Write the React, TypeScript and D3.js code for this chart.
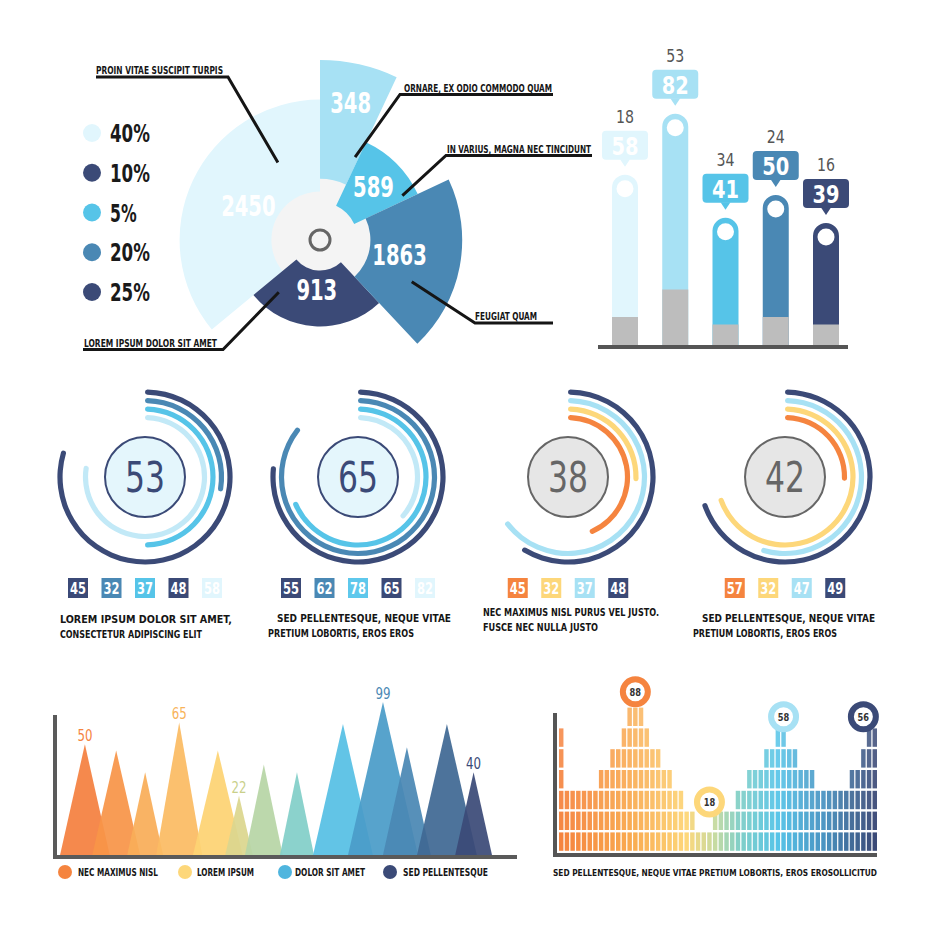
import React from "react";
import * as d3 from "d3";

const NAVY = "#3b4a77";
const STEEL = "#4a88b4";
const CYAN = "#56c4e8";
const SKY = "#a7e1f4";
const ICE = "#e1f6fd";
const PALE = "#c2e9f7";
const ORANGE = "#f5843f";
const YELLOW = "#fdd77a";
const INK = "#151515";
const FONT = "'Liberation Sans Narrow', 'DejaVu Sans Condensed', Roboto, sans-serif";

// polar wedges, clockwise from 12 o'clock
const wedgeLabels = ["348", "589", "1863", "913", "2450"];
const wedgeShares = [7, 11, 20, 26, 36];
const wedgeReach = [100, 60, 79, 48, 78];
const wedgeHole = [34, 21, 28, 17, 27];
const wedgeTextReach = [78, 42, 45, 28, 44];
const wedgeColors = [SKY, CYAN, STEEL, NAVY, ICE];
const wedgeDrawOrder = [4, 0, 1, 3, 2];

const legendLabels = ["40%", "10%", "5%", "20%", "25%"];
const legendColors = [ICE, NAVY, CYAN, STEEL, NAVY];

const calloutLabels = [
  "PROIN VITAE SUSCIPIT TURPIS",
  "ORNARE, EX ODIO COMMODO QUAM",
  "IN VARIUS, MAGNA NEC TINCIDUNT",
  "FEUGIAT QUAM",
  "LOREM IPSUM DOLOR SIT AMET",
];
const calloutWedge = [4, 0, 1, 2, 3];
const calloutAt = [0.78, 0.91, 0.92, 0.69, 0.87];
const calloutReach = [49, 50, 52, 56, 37];

// pin bars
const barValues = [58, 82, 41, 50, 39];
const barTopNums = [18, 53, 34, 24, 16];
const barBase = [12, 23, 9, 12, 9];
const barColors = [ICE, SKY, CYAN, STEEL, NAVY];

// ring gauges
const ringTotals = [53, 65, 38, 42];
const ringSweeps = [
  [80, 28, 50, 78],
  [77, 86, 69, 37],
  [59, 65, 26, 44],
  [70, 55, 70, 26],
];
const ringPalettes = [
  [NAVY, STEEL, CYAN, PALE],
  [NAVY, STEEL, CYAN, PALE],
  [NAVY, SKY, YELLOW, ORANGE],
  [NAVY, SKY, YELLOW, ORANGE],
];
const ringBoxValues = [
  [45, 32, 37, 48, 58],
  [55, 62, 78, 65, 82],
  [45, 32, 37, 48],
  [57, 32, 47, 49],
];
const ringBoxColors = [
  [NAVY, STEEL, CYAN, NAVY, ICE],
  [NAVY, STEEL, "#5ec8ec", NAVY, ICE],
  [ORANGE, YELLOW, SKY, NAVY],
  [ORANGE, YELLOW, SKY, NAVY],
];
const ringTexts = [
  ["LOREM IPSUM DOLOR SIT AMET,", "CONSECTETUR ADIPISCING ELIT"],
  ["SED PELLENTESQUE, NEQUE VITAE", "PRETIUM LOBORTIS, EROS EROS"],
  ["NEC MAXIMUS NISL PURUS VEL JUSTO.", "FUSCE NEC NULLA JUSTO"],
  ["SED PELLENTESQUE, NEQUE VITAE", "PRETIUM LOBORTIS, EROS EROS"],
];

// mountains
const peakPos = [6.5, 13.3, 19.6, 27, 35.4, 40, 45.4, 52.6, 62.6, 71.3, 76.5, 85.2, 91];
const peakSpread = [5.4, 5.2, 3.9, 5, 5.4, 3, 4.1, 3.7, 6.5, 7.6, 5.2, 6.5, 4];
const peakHeight = [71, 67, 53, 85, 67, 38, 58, 53, 84, 98, 69, 84, 53];
const peakColors = [
  "#f4803f", "#f79448", "#f9ad58", "#fbbb63", "#fdd373", "#dcd68e", "#b7d5a6",
  "#82cfc8", "#56c0e4", "#4a9cc8", "#4a88b4", "#3f6893", "#3b4a77",
];
const peakTags = ["50", "", "", "65", "", "22", "", "", "", "99", "", "", "40"];
const peakTagColors = ["#f5843f", "", "", "#f8b35a", "", "#c9d08a", "", "", "", "#4a88b4", "", "", "#3b4a77"];
const mountainLegend = ["NEC MAXIMUS NISL", "LOREM IPSUM", "DOLOR SIT AMET", "SED PELLENTESQUE"];
const mountainLegendColors = [ORANGE, YELLOW, "#4fb5de", NAVY];

// block histogram
const blockHeights = [
  6, 3, 3, 3, 3, 3, 3, 4, 4, 5, 5, 6, 7, 7, 7, 6, 5, 5, 4, 4, 3, 3, 2, 2, 1, 1, 1, 2,
  2, 2, 2, 3, 3, 4, 4, 4, 5, 5, 6, 6, 5, 5, 4, 4, 4, 3, 3, 3, 3, 3, 3, 4, 4, 5, 6, 6,
];
const markerCols = [13, 26, 39, 53];
const markerLabels = ["88", "18", "58", "56"];
const markerLevels = [7.7, 2.4, 6.5, 6.5];
const markerColors = [ORANGE, YELLOW, SKY, NAVY];

const polar = (cx: number, cy: number, a: number, r: number) => [cx + r * Math.sin(a), cy - r * Math.cos(a)];

function PolarChart() {
  const cx = 320, cy = 240;
  const r = d3.scaleLinear().domain([0, 100]).range([0, 180]);
  const slices = d3.pie<number>().sort(null).value((d) => d)(wedgeShares);
  const arc = d3.arc<any>();
  const legendY = d3.scalePoint<number>().domain(d3.range(legendLabels.length)).range([133, 292]);
  const layout = [
    { ex: 228, ey: 77, end: 96, tx: 96, tw: 127 },
    { ex: 400, ey: 94.5, end: 553, tx: 404, tw: 148 },
    { ex: 446, ey: 155.5, end: 592, tx: 447, tw: 144 },
    { ex: 475, ey: 323, end: 553, tx: 475, tw: 62 },
    { ex: 223, ey: 349.5, end: 83, tx: 84, tw: 133 },
  ];
  return (
    <g>
      <circle cx={cx} cy={cy} r={62} fill="#f4f4f4" />
      {wedgeDrawOrder.map((i) => {
        const s = slices[i];
        return (
          <path
            key={i}
            transform={`translate(${cx},${cy})`}
            d={arc({ innerRadius: r(wedgeHole[i]), outerRadius: r(wedgeReach[i]), startAngle: s.startAngle, endAngle: s.endAngle }) as string}
            fill={wedgeColors[i]}
          />
        );
      })}
      <circle cx={cx} cy={cy} r={10} fill="none" stroke="#666" strokeWidth={3} />
      {slices.map((s, i) => {
        const [x, y] = polar(cx, cy, (s.startAngle + s.endAngle) / 2, r(wedgeTextReach[i]));
        return (
          <text key={i} x={x} y={y + 10} textAnchor="middle" fill="#fff" fontSize={29} fontWeight={600}
            textLength={wedgeLabels[i].length * 13.6} lengthAdjust="spacingAndGlyphs">
            {wedgeLabels[i]}
          </text>
        );
      })}
      {calloutLabels.map((label, k) => {
        const s = slices[calloutWedge[k]];
        const a = s.startAngle + calloutAt[k] * (s.endAngle - s.startAngle);
        const [px, py] = polar(cx, cy, a, r(calloutReach[k]));
        const L = layout[k];
        return (
          <g key={k}>
            <path d={`M${px},${py}L${L.ex},${L.ey}L${L.end},${L.ey}`} fill="none" stroke={INK} strokeWidth={3} />
            <text x={L.tx} y={L.ey - 3} fontSize={10.5} fontWeight={700} fill={INK} textLength={L.tw} lengthAdjust="spacingAndGlyphs">
              {label}
            </text>
          </g>
        );
      })}
      {legendLabels.map((l, i) => (
        <g key={l + i}>
          <circle cx={92} cy={legendY(i)} r={9} fill={legendColors[i]} />
          <text x={110} y={(legendY(i) as number) + 9} fontSize={25} fontWeight={600} fill="#1a1a1a"
            textLength={l.length * 13.3} lengthAdjust="spacingAndGlyphs">{l}</text>
        </g>
      ))}
    </g>
  );
}

function PinBars() {
  const base = 347;
  const x = d3.scalePoint<number>().domain(d3.range(barValues.length)).range([625, 826]);
  const y = d3.scaleLinear().domain([0, 100]).range([322, 68]);
  const h = d3.scaleLinear().domain([0, 100]).range([0, 250]);
  const w = 13;
  return (
    <g>
      {barValues.map((v, i) => {
        const cx = x(i) as number;
        const top = y(v);
        const bb = top - 15;
        return (
          <g key={i}>
            <path d={`M${cx - w},${base}L${cx - w},${top + w}A${w},${w} 0 0 1 ${cx + w},${top + w}L${cx + w},${base}Z`} fill={barColors[i]} />
            <rect x={cx - w} y={base - h(barBase[i])} width={2 * w} height={h(barBase[i])} fill="#bdbdbd" />
            <circle cx={cx} cy={top + 14} r={8.5} fill="#fff" />
            <rect x={cx - 23} y={bb - 29} width={46} height={29} rx={4} fill={barColors[i]} />
            <path d={`M${cx - 5},${bb - 0.5}L${cx},${bb + 7}L${cx + 5},${bb - 0.5}Z`} fill={barColors[i]} />
            <text x={cx} y={bb - 5} textAnchor="middle" fontSize={25} fontWeight={700} fill="#fff"
              textLength={27} lengthAdjust="spacingAndGlyphs">{barValues[i]}</text>
            <text x={cx} y={bb - 37} textAnchor="middle" fontSize={18} fill="#555"
              textLength={18} lengthAdjust="spacingAndGlyphs">{barTopNums[i]}</text>
          </g>
        );
      })}
      <line x1={598} x2={848} y1={base} y2={base} stroke="#555" strokeWidth={4} />
    </g>
  );
}

function Rings() {
  const centers = [145, 358, 568, 785];
  const cy = 477;
  const radii = [85, 76.5, 68, 59.5];
  const sweep = d3.scaleLinear().domain([0, 100]).range([0, 2 * Math.PI]);
  const arc = d3.arc<any>().cornerRadius(2.5);
  const textLayout = [
    { x1: 60, w1: 172, x2: 60, w2: 142, y: 623 },
    { x1: 277, w1: 174, x2: 268, w2: 146, y: 622 },
    { x1: 483, w1: 176, x2: 483, w2: 115, y: 616 },
    { x1: 702, w1: 173, x2: 693, w2: 144, y: 622 },
  ];
  return (
    <g>
      {ringTotals.map((total, k) => {
        const cx = centers[k];
        const warm = k >= 2;
        const boxes = ringBoxValues[k];
        const bx = d3.scalePoint<number>().domain(d3.range(boxes.length)).range([cx - (boxes.length - 1) * 16.75, cx + (boxes.length - 1) * 16.75]);
        const T = textLayout[k];
        return (
          <g key={k}>
            {ringSweeps[k].map((s, j) => (
              <path key={j} transform={`translate(${cx},${cy})`}
                d={arc({ innerRadius: radii[j] - 2.6, outerRadius: radii[j] + 2.6, startAngle: 0, endAngle: sweep(s) }) as string}
                fill={ringPalettes[k][j]} />
            ))}
            <circle cx={cx} cy={cy} r={40} fill={warm ? "#e6e6e6" : "#e4f6fc"} stroke={warm ? "#666" : NAVY} strokeWidth={2} />
            <text x={cx} y={cy + 15} textAnchor="middle" fontSize={42} fill={warm ? "#666" : NAVY}
              textLength={40} lengthAdjust="spacingAndGlyphs">{total}</text>
            {boxes.map((b, i) => (
              <g key={i}>
                <rect x={(bx(i) as number) - 10} y={578} width={20} height={20} fill={ringBoxColors[k][i]} />
                <text x={bx(i)} y={594} textAnchor="middle" fontSize={15} fontWeight={700} fill="#fff"
                  textLength={16} lengthAdjust="spacingAndGlyphs">{b}</text>
              </g>
            ))}
            <text x={T.x1} y={T.y} fontSize={10.5} fontWeight={700} fill={INK} textLength={T.w1} lengthAdjust="spacingAndGlyphs">{ringTexts[k][0]}</text>
            <text x={T.x2} y={T.y + 15} fontSize={10.5} fontWeight={700} fill={INK} textLength={T.w2} lengthAdjust="spacingAndGlyphs">{ringTexts[k][1]}</text>
          </g>
        );
      })}
    </g>
  );
}

function Mountains() {
  const x = d3.scaleLinear().domain([0, 100]).range([55, 515]);
  const y = d3.scaleLinear().domain([0, 100]).range([855, 699]);
  const line = d3.line<[number, number]>().x((d) => x(d[0])).y((d) => y(d[1]));
  const lx = [65, 185, 285, 390];
  const tx = [78, 197, 295, 403];
  const tw = [80, 57, 70, 85];
  return (
    <g>
      {peakPos.map((p, i) => (
        <path key={i} d={line([[p - peakSpread[i], 0], [p, peakHeight[i]], [p + peakSpread[i], 0]]) + "Z"}
          fill={peakColors[i]} fillOpacity={0.93} />
      ))}
      {peakTags.map((t, i) => t && (
        <text key={i} x={x(peakPos[i])} y={y(peakHeight[i]) - 3} textAnchor="middle" fontSize={16} fill={peakTagColors[i]}
          textLength={15} lengthAdjust="spacingAndGlyphs">{t}</text>
      ))}
      <path d="M55,715L55,857L517,857" fill="none" stroke="#5a5a5a" strokeWidth={4} />
      {mountainLegend.map((m, i) => (
        <g key={m}>
          <circle cx={lx[i]} cy={872} r={7} fill={mountainLegendColors[i]} />
          <text x={tx[i]} y={876} fontSize={10.5} fontWeight={700} fill={INK} textLength={tw[i]} lengthAdjust="spacingAndGlyphs">{m}</text>
        </g>
      ))}
    </g>
  );
}

function Blocks() {
  const x = d3.scaleBand<number>().domain(d3.range(blockHeights.length)).range([559, 877]).paddingInner(0.22);
  const y = d3.scaleLinear().domain([0, 7]).range([852, 852 - 7 * 20.8]);
  const color = d3.scaleLinear<string>()
    .domain([0, 12, 22, 27, 31, 38, 46, 55])
    .range([ORANGE, "#f9a94f", YELLOW, "#c6dba2", "#84d0c6", CYAN, "#4a94c2", NAVY])
    .interpolate(d3.interpolateRgb);
  return (
    <g>
      {blockHeights.map((hgt, i) =>
        d3.range(hgt).map((r) => (
          <rect key={`${i}-${r}`} x={x(i)} y={y(r + 1) + 1.2} width={x.bandwidth()} height={y(r) - y(r + 1) - 2.4}
            fill={d3.interpolateRgb(color(i), "#ffffff")(r * 0.03)} />
        ))
      )}
      <path d="M555,713L555,855L877,855" fill="none" stroke="#555" strokeWidth={4} />
      {markerCols.map((c, i) => {
        const cx = (x(c) as number) + x.bandwidth() / 2;
        const cy = y(markerLevels[i]);
        return (
          <g key={i}>
            <circle cx={cx} cy={cy} r={12.5} fill="#fff" stroke={markerColors[i]} strokeWidth={6} />
            <text x={cx} y={cy + 4} textAnchor="middle" fontSize={11} fontWeight={700} fill="#333"
              textLength={11.5} lengthAdjust="spacingAndGlyphs">{markerLabels[i]}</text>
          </g>
        );
      })}
      <text x={553} y={876} fontSize={9} fontWeight={700} fill={INK} textLength={324} lengthAdjust="spacingAndGlyphs">
        SED PELLENTESQUE, NEQUE VITAE PRETIUM LOBORTIS, EROS EROSOLLICITUD
      </text>
    </g>
  );
}

export default function App() {
  return (
    <svg width={932} height={926} style={{ position: "absolute", left: 0, top: 0, background: "#fff" }} fontFamily={FONT}>
      <PolarChart />
      <PinBars />
      <Rings />
      <Mountains />
      <Blocks />
    </svg>
  );
}
